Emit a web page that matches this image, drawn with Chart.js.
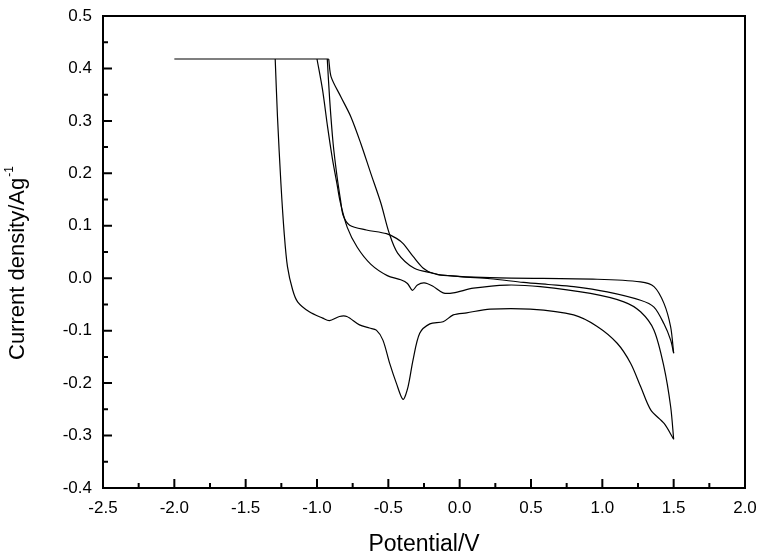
<!DOCTYPE html>
<html>
<head>
<meta charset="utf-8">
<script src="https://cdn.jsdelivr.net/npm/chart.js@4/dist/chart.umd.min.js"></script>
<style>
  html, body { margin: 0; padding: 0; background: #fff; }
  canvas { display: block; }
</style>
</head>
<body>
<canvas id="cv" width="762" height="557"></canvas>
<script>
// axis ticks
const xTicks = [-2.5, -2.0, -1.5, -1.0, -0.5, 0.0, 0.5, 1.0, 1.5, 2.0];
const yTicks = [-0.4, -0.3, -0.2, -0.1, 0.0, 0.1, 0.2, 0.3, 0.4, 0.5];

// saturated (clipped) current at the top
const clipV = [-2.0, -0.918];
const clipI = [0.418, 0.418];

// scan A: lower branch with the big peak at -0.4 V
const aV = [-1.293, -1.277, -1.253, -1.230, -1.207, -1.171, -1.136, -1.054, -0.960, -0.913, -0.843, -0.791, -0.702, -0.632, -0.584, -0.538, -0.491, -0.444, -0.397, -0.362, -0.327, -0.280, -0.209, -0.116, -0.045, 0.049, 0.213, 0.494, 0.799, 0.964, 1.104, 1.198, 1.269, 1.339, 1.433, 1.5];
const aI = [0.418, 0.308, 0.181, 0.086, 0.022, -0.022, -0.045, -0.064, -0.076, -0.081, -0.073, -0.073, -0.089, -0.095, -0.099, -0.118, -0.162, -0.200, -0.231, -0.207, -0.156, -0.105, -0.087, -0.083, -0.070, -0.066, -0.059, -0.059, -0.070, -0.092, -0.124, -0.162, -0.207, -0.251, -0.277, -0.307];

// scan B: return from 1.5 V with the small dip near -0.33 V
const bV = [1.5, 1.479, 1.432, 1.362, 1.268, 1.151, 0.917, 0.565, 0.331, 0.096, -0.045, -0.116, -0.190, -0.249, -0.296, -0.331, -0.366, -0.413, -0.507, -0.624, -0.718, -0.788, -0.837, -0.860, -0.891, -0.926, -0.961, -1.0];
const bI = [-0.307, -0.245, -0.169, -0.099, -0.064, -0.045, -0.029, -0.016, -0.013, -0.019, -0.028, -0.028, -0.015, -0.009, -0.013, -0.023, -0.010, -0.003, 0.005, 0.027, 0.059, 0.097, 0.145, 0.180, 0.226, 0.289, 0.359, 0.418];

// scan C: shoulder near -0.45 V, ends at 1.5 V
const cV = [-0.928, -0.911, -0.887, -0.859, -0.835, -0.817, -0.771, -0.654, -0.513, -0.443, -0.396, -0.325, -0.255, -0.185, 0.001, 0.213, 0.447, 0.620, 0.799, 1.034, 1.268, 1.362, 1.432, 1.479, 1.5];
const cI = [0.418, 0.340, 0.257, 0.193, 0.149, 0.120, 0.101, 0.092, 0.085, 0.076, 0.066, 0.041, 0.019, 0.009, 0.003, -0.001, -0.008, -0.012, -0.016, -0.026, -0.042, -0.055, -0.087, -0.118, -0.143];

// scan D: flat top branch back to the clip
const dV = [1.5, 1.479, 1.432, 1.362, 1.268, 0.964, 0.213, -0.137, -0.177, -0.318, -0.435, -0.494, -0.552, -0.623, -0.693, -0.763, -0.833, -0.901, -0.918];
const dI = [-0.143, -0.093, -0.048, -0.016, -0.007, -0.002, 0.001, 0.006, 0.009, 0.019, 0.048, 0.086, 0.143, 0.200, 0.257, 0.308, 0.346, 0.384, 0.418];

const toPoints = (vs, is) => vs.map((v, k) => ({ x: v, y: is[k] }));

const curve = (label, vs, is, tension) => ({
    label: label,
    data: toPoints(vs, is),
    showLine: true,
    borderColor: "#000",
    borderWidth: 1.2,
    pointRadius: 0,
    tension: tension,
    fill: false
});

const fmt = v => (Math.abs(v) < 1e-9 ? 0 : v).toFixed(1);

// drop the label overflow padding so the plot box sits where Origin put it
const noPad = s => { s.paddingLeft = 0; s.paddingRight = 0; s.paddingTop = 0; s.paddingBottom = 0; };

// frame, inward major/minor ticks and axis titles (Origin style)
const originFrame = {
    id: "originFrame",
    afterDraw(chart) {
        const { ctx, chartArea: a, scales: { x, y } } = chart;
        ctx.save();
        ctx.strokeStyle = "#000";
        ctx.lineWidth = 2;
        ctx.strokeRect(a.left, a.top, a.right - a.left, a.bottom - a.top);

        ctx.beginPath();
        xTicks.forEach((v, k) => {
            const px = x.getPixelForValue(v);
            ctx.moveTo(px, a.bottom);
            ctx.lineTo(px, a.bottom - 9);
            if (k < xTicks.length - 1) {
                const pm = x.getPixelForValue((v + xTicks[k + 1]) / 2);
                ctx.moveTo(pm, a.bottom);
                ctx.lineTo(pm, a.bottom - 5);
            }
        });
        yTicks.forEach((v, k) => {
            const py = y.getPixelForValue(v);
            ctx.moveTo(a.left, py);
            ctx.lineTo(a.left + 9, py);
            if (k < yTicks.length - 1) {
                const pm = y.getPixelForValue((v + yTicks[k + 1]) / 2);
                ctx.moveTo(a.left, pm);
                ctx.lineTo(a.left + 5, pm);
            }
        });
        ctx.stroke();

        // axis titles
        ctx.fillStyle = "#000";
        ctx.textBaseline = "alphabetic";
        ctx.font = '23px "Liberation Sans", Arial, sans-serif';
        ctx.textAlign = "center";
        ctx.fillText("Potential/V", (a.left + a.right) / 2, 551);

        ctx.font = '22px "Liberation Sans", Arial, sans-serif';
        ctx.translate(23.5, 360);
        ctx.rotate(-Math.PI / 2);
        ctx.textAlign = "left";
        const main = "Current density/Ag";
        ctx.fillText(main, 0, 0);
        const w = ctx.measureText(main).width;
        ctx.font = '12px "Liberation Sans", Arial, sans-serif';
        ctx.fillText("-1", w + 1, -11);
        ctx.restore();
    }
};

Chart.defaults.font.family = '"Liberation Sans", Arial, sans-serif';
Chart.defaults.color = "#000";

new Chart(document.getElementById("cv").getContext("2d"), {
    type: "scatter",
    data: {
        datasets: [
            curve("clip", clipV, clipI, 0),
            curve("scan A", aV, aI, 0.3),
            curve("scan B", bV, bI, 0.3),
            curve("scan C", cV, cI, 0.3),
            curve("scan D", dV, dI, 0.3)
        ]
    },
    options: {
        responsive: false,
        animation: false,
        layout: { autoPadding: false, padding: { top: 16, right: 17, left: 0, bottom: 0 } },
        plugins: {
            legend: { display: false },
            tooltip: { enabled: false }
        },
        scales: {
            x: {
                type: "linear",
                min: -2.5,
                max: 2.0,
                afterBuildTicks: s => { s.ticks = xTicks.map(v => ({ value: v })); },
                afterFit: s => { s.height = 69; noPad(s); },
                grid: { display: false, drawTicks: false },
                border: { display: false },
                ticks: {
                    font: { size: 17 },
                    padding: 10,
                    maxRotation: 0,
                    autoSkip: false,
                    callback: v => fmt(v)
                }
            },
            y: {
                type: "linear",
                min: -0.4,
                max: 0.5,
                afterBuildTicks: s => { s.ticks = yTicks.map(v => ({ value: v })); },
                afterFit: s => { s.width = 103; noPad(s); },
                grid: { display: false, drawTicks: false },
                border: { display: false },
                ticks: {
                    font: { size: 17 },
                    padding: 11,
                    autoSkip: false,
                    callback: v => fmt(v)
                }
            }
        }
    },
    plugins: [originFrame]
});
</script>
</body>
</html>
